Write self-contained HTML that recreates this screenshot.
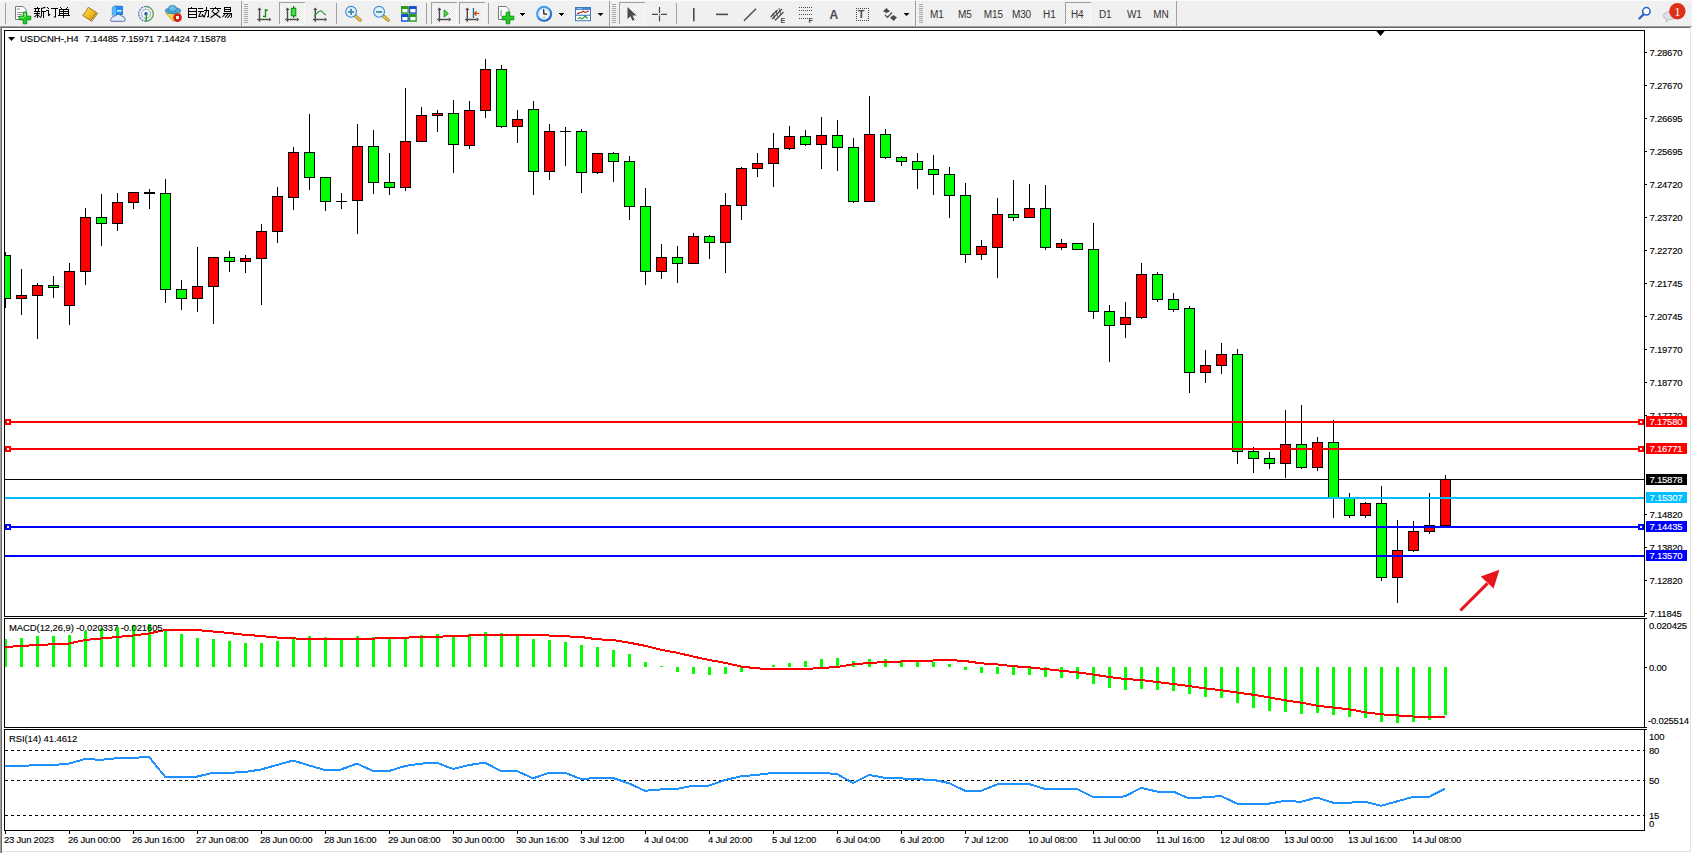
<!DOCTYPE html>
<html><head><meta charset="utf-8"><style>
html,body{margin:0;padding:0;width:1692px;height:853px;overflow:hidden;background:#fff;}
svg{position:absolute;left:0;top:0;font-family:"Liberation Sans", sans-serif;}
</style></head><body>
<svg width="1692" height="853" viewBox="0 0 1692 853" shape-rendering="crispEdges">
<!-- window chrome -->
<rect x="0" y="0" width="1692" height="26" fill="#f0f0f0"/>
<rect x="0" y="0" width="1692" height="1" fill="#fafafa"/>
<rect x="0" y="26" width="1692" height="1" fill="#a0a0a0"/>
<rect x="0" y="27" width="1690" height="1" fill="#696969"/>
<rect x="0" y="27" width="1" height="826" fill="#a0a0a0"/>
<rect x="1" y="27" width="1" height="826" fill="#696969"/>
<rect x="1690" y="27" width="1" height="825" fill="#e3e3e3"/>
<rect x="2" y="851" width="1689" height="1" fill="#e3e3e3"/>
<defs><pattern id="chk" width="2" height="2" patternUnits="userSpaceOnUse"><rect width="2" height="2" fill="#fbfbfb"/><rect width="1" height="1" fill="#e8e8e8"/><rect x="1" y="1" width="1" height="1" fill="#e8e8e8"/></pattern></defs>
<g shape-rendering="geometricPrecision">
<rect x="5" y="3" width="1" height="21" fill="#a0a0a0"/>
<path d="M15.5,6.5 h7.5 l3,3 v10 h-10.5 z" fill="#fff" stroke="#777" stroke-width="1"/>
<rect x="17" y="8.5" width="3" height="1.2" fill="#999"/><rect x="17" y="12" width="6" height="0.8" fill="#888"/><rect x="17" y="14" width="5" height="0.8" fill="#888"/><rect x="17" y="16" width="3" height="0.8" fill="#888"/>
<path d="M23.2,12.2 h3.6 v4 h4 v3.6 h-4 v4 h-3.6 v-4 h-4 v-3.6 h4 z" fill="#20d020" stroke="#0a8a0a" stroke-width="0.9"/>
<path d="M24,13 h2 v4 h-2 z M20,17 h4 v1.2 h-4 z" fill="#90f090" opacity="0.7"/>
<g fill="#000" shape-rendering="crispEdges"><rect x="37" y="7" width="1" height="1"/><rect x="34" y="8" width="6" height="1"/><rect x="35" y="9" width="1" height="2"/><rect x="38" y="9" width="1" height="2"/><rect x="34" y="11" width="6" height="1"/><rect x="34" y="13" width="6" height="1"/><rect x="37" y="11" width="1" height="7"/><rect x="41" y="8" width="1" height="8"/><rect x="41" y="11" width="5" height="1"/><rect x="43" y="11" width="1" height="7"/></g>
<path d="M37,14.5 L34.4,17.2 M37.6,14.8 L39.8,16.6 M45.5,7.2 L41.5,8.5 M41.5,15.8 L40.3,17.8" fill="none" stroke="#000" stroke-width="1.05" shape-rendering="geometricPrecision"/>
<g fill="#000" shape-rendering="crispEdges"><rect x="47" y="7" width="1" height="1"/><rect x="48" y="8" width="1" height="1"/><rect x="46" y="10" width="3" height="1"/><rect x="48" y="10" width="1" height="6"/><rect x="51" y="8" width="7" height="1"/><rect x="55" y="8" width="1" height="9"/></g>
<path d="M48.5,16 L50.2,14.2 M55.5,17.5 L53.8,16.6" fill="none" stroke="#000" stroke-width="1.05" shape-rendering="geometricPrecision"/>
<g fill="#000" shape-rendering="crispEdges"><rect x="60" y="7" width="1" height="1"/><rect x="61" y="8" width="1" height="1"/><rect x="67" y="7" width="1" height="1"/><rect x="66" y="8" width="1" height="1"/><rect x="59" y="9" width="10" height="1"/><rect x="59" y="9" width="1" height="6"/><rect x="68" y="9" width="1" height="6"/><rect x="59" y="11" width="10" height="1"/><rect x="59" y="13" width="10" height="1"/><rect x="58" y="15" width="12" height="1"/><rect x="63" y="9" width="1" height="9"/></g>
<defs><linearGradient id="bk" x1="0" y1="0" x2="1" y2="1"><stop offset="0" stop-color="#fde070"/><stop offset="0.6" stop-color="#e8b818"/><stop offset="1" stop-color="#c89010"/></linearGradient></defs>
<path d="M91.5,21.6 L97.6,13.6 L96.6,12.6 L90.6,20.6 Z" fill="#f4e4b0" stroke="#9a6010" stroke-width="0.8"/>
<path d="M82.6,15.4 Q85,13 86.5,10.5 Q87.5,8 88.3,7.3 L96.6,12.6 L90.6,20.6 Z" fill="url(#bk)" stroke="#a06810" stroke-width="0.9"/>
<path d="M112.3,7.5 L114.5,6 L122.5,6.3 L122.5,15 L112.3,15 Z" fill="#1a90f0" stroke="#1a60c0" stroke-width="0.7"/>
<path d="M112.3,7.5 L114.5,6 L116,8 L116,15 L112.3,15 Z" fill="#5ab8ff"/>
<rect x="117" y="10" width="4.5" height="1.6" fill="#e0f0ff"/>
<path d="M111,21.3 Q109.6,19 111.8,17.8 Q112.5,15.6 115,16 Q116.5,13.8 119.5,14.6 Q121.5,15.2 121.8,16.4 Q125,16.5 125.2,19 Q125.6,21.3 123.5,21.3 Z" fill="#e4ecf6" stroke="#4a68a0" stroke-width="0.9"/>
<path d="M146,6.5 a7.3,7.3 0 0 0 0,14.6" fill="none" stroke="#3a70c8" stroke-width="1.1" stroke-dasharray="2.2,0.8"/>
<path d="M146,6.5 a7.3,7.3 0 0 1 0,14.6" fill="none" stroke="#58a060" stroke-width="1.3"/>
<path d="M146,9.2 a4.6,4.6 0 0 0 0,9.2" fill="none" stroke="#5a88d0" stroke-width="1" stroke-dasharray="1.6,0.8"/>
<path d="M146,9.2 a4.6,4.6 0 0 1 0,9.2" fill="none" stroke="#88b890" stroke-width="1"/>
<circle cx="146" cy="13.8" r="1.7" fill="#2050c0"/>
<rect x="145.6" y="13.8" width="1.4" height="7.8" fill="#20a020"/>
<path d="M165.8,13.2 L181,13 L173.5,21.6 Z" fill="#f0d850" stroke="#c0a020" stroke-width="0.8"/>
<ellipse cx="173" cy="10.6" rx="7.8" ry="3" fill="#4aa8d8" stroke="#2a7aa8" stroke-width="0.8"/>
<ellipse cx="172.5" cy="8.5" rx="4" ry="3" fill="#6ac0e8" stroke="#2a7aa8" stroke-width="0.8"/>
<circle cx="177.5" cy="17.6" r="4.3" fill="#d82010"/><rect x="176" y="16.1" width="3" height="3" fill="#fff"/>
<g fill="#000" shape-rendering="crispEdges"><rect x="191" y="7" width="1" height="1"/><rect x="188" y="8" width="1" height="10"/><rect x="196" y="8" width="1" height="10"/><rect x="188" y="8" width="9" height="1"/><rect x="188" y="11" width="9" height="1"/><rect x="188" y="14" width="9" height="1"/><rect x="188" y="17" width="9" height="1"/></g>
<g fill="#000" shape-rendering="crispEdges"><rect x="198" y="8" width="5" height="1"/><rect x="198" y="11" width="6" height="1"/><rect x="204" y="10" width="5" height="1"/><rect x="208" y="10" width="1" height="7"/><rect x="206" y="7" width="1" height="4"/></g>
<path d="M201,11.5 L198.6,16.8 M198.6,16.8 L203.2,15.8 M202.2,14 L203.8,16.8 M208.5,17 L207,16.4 M206.5,11 L204,17.6" fill="none" stroke="#000" stroke-width="1.05" shape-rendering="geometricPrecision"/>
<g fill="#000" shape-rendering="crispEdges"><rect x="215" y="7" width="1" height="1"/><rect x="210" y="8" width="11" height="1"/></g>
<path d="M213.8,9.4 L211.6,11.6 M217.2,9.4 L219.4,11.6 M212.6,12 L220.6,17.8 M218.4,12 L210.4,17.8" fill="none" stroke="#000" stroke-width="1.05" shape-rendering="geometricPrecision"/>
<g fill="#000" shape-rendering="crispEdges"><rect x="224" y="7" width="7" height="1"/><rect x="224" y="7" width="1" height="5"/><rect x="230" y="7" width="1" height="5"/><rect x="224" y="9" width="7" height="1"/><rect x="224" y="11" width="7" height="1"/><rect x="223" y="13" width="9" height="1"/><rect x="231" y="13" width="1" height="4"/></g>
<path d="M225.5,13.5 L222.5,17 M228,14 L225,17.6 M230.5,14 L227.5,17.8 M231.5,17 L230.3,17.6" fill="none" stroke="#000" stroke-width="1.05" shape-rendering="geometricPrecision"/>
</g>
<rect x="241" y="1" width="1" height="25" fill="#a0a0a0"/>
<rect x="244" y="4" width="4" height="1" fill="#a8a8a8"/>
<rect x="244" y="6" width="4" height="1" fill="#a8a8a8"/>
<rect x="244" y="8" width="4" height="1" fill="#a8a8a8"/>
<rect x="244" y="10" width="4" height="1" fill="#a8a8a8"/>
<rect x="244" y="12" width="4" height="1" fill="#a8a8a8"/>
<rect x="244" y="14" width="4" height="1" fill="#a8a8a8"/>
<rect x="244" y="16" width="4" height="1" fill="#a8a8a8"/>
<rect x="244" y="18" width="4" height="1" fill="#a8a8a8"/>
<rect x="244" y="20" width="4" height="1" fill="#a8a8a8"/>
<rect x="244" y="22" width="4" height="1" fill="#a8a8a8"/>
<g shape-rendering="geometricPrecision">
<g fill="none" stroke="#4a4a4a" stroke-width="1.4"><path d="M259.5,8.5 v13.2"/><path d="M257.2,19.5 h11.5"/></g>
<polygon points="257.5,10 259.5,7.5 261.5,10" fill="#4a4a4a"/><polygon points="268.8,17.5 271.3,19.5 268.8,21.5" fill="#4a4a4a"/>
<path d="M265.5,9 v8.5 M263,16.3 h2.5 M265.5,10.3 h2.5" fill="none" stroke="#0a8a0a" stroke-width="1.3"/>
</g>
<rect x="279" y="2" width="26" height="23" fill="#fafafa"/>
<rect x="280" y="3" width="24" height="21" fill="url(#chk)"/>
<rect x="279" y="2" width="26" height="1" fill="#a0a0a0"/>
<rect x="279" y="2" width="1" height="22" fill="#a0a0a0"/>
<g shape-rendering="geometricPrecision">
<g fill="none" stroke="#4a4a4a" stroke-width="1.4"><path d="M287.5,8.5 v13.2"/><path d="M285.2,19.5 h11.5"/></g>
<polygon points="285.5,10 287.5,7.5 289.5,10" fill="#4a4a4a"/><polygon points="296.8,17.5 299.3,19.5 296.8,21.5" fill="#4a4a4a"/>
<rect x="293" y="6" width="1.3" height="12" fill="#0a8a0a"/>
<rect x="291.3" y="8.3" width="4.5" height="7.5" fill="#40e040" stroke="#0a8a0a" stroke-width="1"/>
<g fill="none" stroke="#4a4a4a" stroke-width="1.4"><path d="M315.3,8.5 v13.2"/><path d="M313.0,19.5 h11.5"/></g>
<polygon points="313.3,10 315.3,7.5 317.3,10" fill="#4a4a4a"/><polygon points="324.6,17.5 327.1,19.5 324.6,21.5" fill="#4a4a4a"/>
<path d="M314,16.5 Q320,9 322,11.5 T326,15" fill="none" stroke="#2a9a2a" stroke-width="1.2"/>
</g>
<rect x="336" y="3" width="1" height="21" fill="#a0a0a0"/>
<g shape-rendering="geometricPrecision">
<path d="M354.5,15.3 l5.6,4.8" stroke="#9a7010" stroke-width="3.2" stroke-linecap="round"/>
<path d="M354.5,15.3 l5.6,4.8" stroke="#e8d050" stroke-width="1.8" stroke-linecap="round"/>
<circle cx="351.1" cy="11.8" r="5.4" fill="#dff2fc" stroke="#3a88d0" stroke-width="1.1"/>
<rect x="348.1" y="11" width="6" height="1.8" fill="#4a88a8"/>
<rect x="350.20000000000005" y="8.8" width="1.8" height="6" fill="#4a88a8"/>
<path d="M382.5,15.3 l5.6,4.8" stroke="#9a7010" stroke-width="3.2" stroke-linecap="round"/>
<path d="M382.5,15.3 l5.6,4.8" stroke="#e8d050" stroke-width="1.8" stroke-linecap="round"/>
<circle cx="379.1" cy="11.8" r="5.4" fill="#dff2fc" stroke="#3a88d0" stroke-width="1.1"/>
<rect x="376.1" y="11" width="6" height="1.8" fill="#4a88a8"/>
<rect x="401" y="6" width="7.8" height="7.8" fill="#2a9a1a" rx="0.5"/>
<rect x="402.3" y="9" width="5.2" height="3.3" fill="#fff"/>
<rect x="409" y="6" width="7.8" height="7.8" fill="#1a50d0" rx="0.5"/>
<rect x="410.3" y="9" width="5.2" height="3.3" fill="#fff"/>
<rect x="401" y="14" width="7.8" height="7.8" fill="#1a50d0" rx="0.5"/>
<rect x="402.3" y="17" width="5.2" height="3.3" fill="#fff"/>
<rect x="409" y="14" width="7.8" height="7.8" fill="#2a9a1a" rx="0.5"/>
<rect x="410.3" y="17" width="5.2" height="3.3" fill="#fff"/>
</g>
<rect x="426" y="3" width="1" height="21" fill="#a0a0a0"/>
<rect x="431" y="2" width="26" height="23" fill="#fafafa"/>
<rect x="432" y="3" width="24" height="21" fill="url(#chk)"/>
<rect x="431" y="2" width="26" height="1" fill="#a0a0a0"/>
<rect x="431" y="2" width="1" height="22" fill="#a0a0a0"/>
<rect x="459" y="2" width="26" height="23" fill="#fafafa"/>
<rect x="460" y="3" width="24" height="21" fill="url(#chk)"/>
<rect x="459" y="2" width="26" height="1" fill="#a0a0a0"/>
<rect x="459" y="2" width="1" height="22" fill="#a0a0a0"/>
<g shape-rendering="geometricPrecision">
<g fill="none" stroke="#4a4a4a" stroke-width="1.4"><path d="M439.4,8.5 v13.2"/><path d="M437.09999999999997,19.5 h11.5"/></g>
<polygon points="437.4,10 439.4,7.5 441.4,10" fill="#4a4a4a"/><polygon points="448.7,17.5 451.2,19.5 448.7,21.5" fill="#4a4a4a"/>
<polygon points="444.2,10 444.2,17 448.3,13.5" fill="#60d060" stroke="#0a9a0a" stroke-width="1"/>
<g fill="none" stroke="#4a4a4a" stroke-width="1.4"><path d="M467.3,8.5 v13.2"/><path d="M465.0,19.5 h11.5"/></g>
<polygon points="465.3,10 467.3,7.5 469.3,10" fill="#4a4a4a"/><polygon points="476.6,17.5 479.1,19.5 476.6,21.5" fill="#4a4a4a"/>
<rect x="472.8" y="8" width="1.3" height="10" fill="#1a6aa8"/>
<path d="M479,13.4 h-4.5 M476.5,11.3 l-2,2.1 l2,2.1" fill="none" stroke="#d05010" stroke-width="1.4"/>
</g>
<rect x="488" y="3" width="1" height="21" fill="#a0a0a0"/>
<g shape-rendering="geometricPrecision">
<path d="M498.5,6.5 h7.5 l3,3 v10 h-10.5 z" fill="#fff" stroke="#777" stroke-width="1"/>
<path d="M502,10 q-1,0 -1,2 v4" fill="none" stroke="#555" stroke-width="0.8"/>
<path d="M506.2,12.2 h3.6 v4 h4 v3.6 h-4 v4 h-3.6 v-4 h-4 v-3.6 h4 z" fill="#20d020" stroke="#0a8a0a" stroke-width="0.9"/>
</g>
<polygon points="519.5,13 525.5,13 522.5,16" fill="#000"/>
<g shape-rendering="geometricPrecision">
<defs><radialGradient id="clk" cx="0.4" cy="0.35" r="0.7"><stop offset="0.6" stop-color="#3aa0f8"/><stop offset="1" stop-color="#0a4aa8"/></radialGradient></defs>
<circle cx="544.1" cy="13.8" r="8" fill="url(#clk)"/>
<circle cx="544.1" cy="13.8" r="5.9" fill="#f4f4f4"/>
<circle cx="549.00" cy="13.80" r="0.35" fill="#888"/>
<circle cx="548.34" cy="16.25" r="0.35" fill="#888"/>
<circle cx="546.55" cy="18.04" r="0.35" fill="#888"/>
<circle cx="544.10" cy="18.70" r="0.35" fill="#888"/>
<circle cx="541.65" cy="18.04" r="0.35" fill="#888"/>
<circle cx="539.86" cy="16.25" r="0.35" fill="#888"/>
<circle cx="539.20" cy="13.80" r="0.35" fill="#888"/>
<circle cx="539.86" cy="11.35" r="0.35" fill="#888"/>
<circle cx="541.65" cy="9.56" r="0.35" fill="#888"/>
<circle cx="544.10" cy="8.90" r="0.35" fill="#888"/>
<circle cx="546.55" cy="9.56" r="0.35" fill="#888"/>
<circle cx="548.34" cy="11.35" r="0.35" fill="#888"/>
<path d="M543.6,9.3 L543.9,13.9 L547,14.2" fill="none" stroke="#111" stroke-width="1.2"/>
<rect x="542.8" y="16.8" width="2.4" height="0.8" fill="#6ab0f0"/>
</g>
<polygon points="558.5,13 564.5,13 561.5,16" fill="#000"/>
<g shape-rendering="geometricPrecision">
<rect x="575.5" y="7.5" width="15" height="13.2" fill="#fff" stroke="#3a78c0" stroke-width="1"/>
<rect x="576" y="8" width="14" height="2" fill="#4a8ad8"/>
<rect x="577" y="8.3" width="5" height="0.8" fill="#a8d0f8"/>
<rect x="576" y="14.7" width="14" height="1.1" fill="#3a78c0"/>
<path d="M577,13.4 h1.5 l2,-1.2 h1.2 l1.5,-1 l1.5,1 h1.5 l1.5,-1 h1" fill="none" stroke="#a82010" stroke-width="1.1"/>
<path d="M578,18.8 l1.5,-0.9 h1 l1.5,1 l1.5,-1 l1.5,-1.8 l2.6,2.4" fill="none" stroke="#1a901a" stroke-width="1.1"/>
<polygon points="597.5,13 603.5,13 600.5,16" fill="#000"/>
<rect x="609" y="1" width="1" height="25" fill="#a0a0a0"/>
<rect x="612" y="4" width="4" height="1" fill="#a8a8a8"/>
<rect x="612" y="6" width="4" height="1" fill="#a8a8a8"/>
<rect x="612" y="8" width="4" height="1" fill="#a8a8a8"/>
<rect x="612" y="10" width="4" height="1" fill="#a8a8a8"/>
<rect x="612" y="12" width="4" height="1" fill="#a8a8a8"/>
<rect x="612" y="14" width="4" height="1" fill="#a8a8a8"/>
<rect x="612" y="16" width="4" height="1" fill="#a8a8a8"/>
<rect x="612" y="18" width="4" height="1" fill="#a8a8a8"/>
<rect x="612" y="20" width="4" height="1" fill="#a8a8a8"/>
<rect x="612" y="22" width="4" height="1" fill="#a8a8a8"/>
<rect x="619" y="2" width="26" height="23" fill="#fafafa"/>
<rect x="620" y="3" width="24" height="21" fill="url(#chk)"/>
<rect x="619" y="2" width="26" height="1" fill="#a0a0a0"/>
<rect x="619" y="2" width="1" height="22" fill="#a0a0a0"/>
<g shape-rendering="geometricPrecision">
<path d="M627.5,7 v12 l3,-2.8 l2,4.5 l2,-1 l-2,-4.2 h4 z" fill="#4a4a4a"/>
<path d="M659.5,7 v6 M659.5,15.5 v6 M652,14.3 h6 M661,14.3 h6" fill="none" stroke="#4a4a4a" stroke-width="1.2"/>
<rect x="659" y="13.8" width="1" height="1" fill="#4a4a4a"/>
</g>
<rect x="676" y="3" width="1" height="21" fill="#a0a0a0"/>
<g shape-rendering="geometricPrecision" fill="none" stroke="#4a4a4a">
<path d="M693.8,8 v13.2" stroke-width="1.6"/>
<path d="M716,14.4 h12" stroke-width="1.6"/>
<path d="M744,20.8 L756,8.8" stroke-width="1.4"/>
<path d="M770.5,17 L777.5,10 M775,20.5 L783.5,12 M772,19 L782,9" stroke-width="1.2"/>
<path d="M773,13 l1.5,6 M776,10.5 l1.5,6 M779,8 l1.5,6" stroke-width="0.9"/>
</g>
<text x="780.5" y="23" font-size="7" font-weight="bold" fill="#4a4a4a" font-family="Liberation Sans">E</text>
<g fill="#4a4a4a">
<rect x="799" y="7" width="1" height="1"/>
<rect x="801" y="7" width="1" height="1"/>
<rect x="803" y="7" width="1" height="1"/>
<rect x="805" y="7" width="1" height="1"/>
<rect x="807" y="7" width="1" height="1"/>
<rect x="809" y="7" width="1" height="1"/>
<rect x="811" y="7" width="1" height="1"/>
<rect x="799" y="10" width="1" height="1"/>
<rect x="801" y="10" width="1" height="1"/>
<rect x="803" y="10" width="1" height="1"/>
<rect x="805" y="10" width="1" height="1"/>
<rect x="807" y="10" width="1" height="1"/>
<rect x="809" y="10" width="1" height="1"/>
<rect x="811" y="10" width="1" height="1"/>
<rect x="799" y="14" width="1" height="1"/>
<rect x="801" y="14" width="1" height="1"/>
<rect x="803" y="14" width="1" height="1"/>
<rect x="805" y="14" width="1" height="1"/>
<rect x="807" y="14" width="1" height="1"/>
<rect x="809" y="14" width="1" height="1"/>
<rect x="811" y="14" width="1" height="1"/>
<rect x="799" y="18" width="1" height="1"/>
<rect x="801" y="18" width="1" height="1"/>
<rect x="803" y="18" width="1" height="1"/>
<rect x="805" y="18" width="1" height="1"/>
<rect x="807" y="18" width="1" height="1"/>
</g>
<text x="808.5" y="23" font-size="7" font-weight="bold" fill="#4a4a4a" font-family="Liberation Sans">F</text>
<text x="829.5" y="19" font-size="12" font-weight="bold" fill="#4a4a4a" font-family="Liberation Sans">A</text>
<g fill="#4a4a4a">
<rect x="856" y="8" width="1" height="1"/><rect x="856" y="20" width="1" height="1"/>
<rect x="858" y="8" width="1" height="1"/><rect x="858" y="20" width="1" height="1"/>
<rect x="860" y="8" width="1" height="1"/><rect x="860" y="20" width="1" height="1"/>
<rect x="862" y="8" width="1" height="1"/><rect x="862" y="20" width="1" height="1"/>
<rect x="864" y="8" width="1" height="1"/><rect x="864" y="20" width="1" height="1"/>
<rect x="866" y="8" width="1" height="1"/><rect x="866" y="20" width="1" height="1"/>
<rect x="868" y="8" width="1" height="1"/><rect x="868" y="20" width="1" height="1"/>
<rect x="856" y="8" width="1" height="1"/><rect x="868" y="8" width="1" height="1"/>
<rect x="856" y="10" width="1" height="1"/><rect x="868" y="10" width="1" height="1"/>
<rect x="856" y="12" width="1" height="1"/><rect x="868" y="12" width="1" height="1"/>
<rect x="856" y="14" width="1" height="1"/><rect x="868" y="14" width="1" height="1"/>
<rect x="856" y="16" width="1" height="1"/><rect x="868" y="16" width="1" height="1"/>
<rect x="856" y="18" width="1" height="1"/><rect x="868" y="18" width="1" height="1"/>
<rect x="856" y="20" width="1" height="1"/><rect x="868" y="20" width="1" height="1"/>
</g>
<text x="858" y="18" font-size="10.5" font-weight="bold" fill="#4a4a4a" font-family="Liberation Sans">T</text>
<g shape-rendering="geometricPrecision">
<polygon points="883,11.3 886.5,8 890,11.3 886.5,13" fill="#4a4a4a"/>
<polygon points="890,17.5 893.5,15 897,17.5 893.5,21" fill="#4a4a4a"/>
<path d="M885,15 l2.5,2.5 l4.5,-5" fill="none" stroke="#4a4a4a" stroke-width="1.2"/>
</g>
<polygon points="903.5,13 909.5,13 906.5,16" fill="#000"/>
<rect x="915" y="1" width="1" height="25" fill="#a0a0a0"/>
<rect x="919" y="4" width="4" height="1" fill="#a8a8a8"/>
<rect x="919" y="6" width="4" height="1" fill="#a8a8a8"/>
<rect x="919" y="8" width="4" height="1" fill="#a8a8a8"/>
<rect x="919" y="10" width="4" height="1" fill="#a8a8a8"/>
<rect x="919" y="12" width="4" height="1" fill="#a8a8a8"/>
<rect x="919" y="14" width="4" height="1" fill="#a8a8a8"/>
<rect x="919" y="16" width="4" height="1" fill="#a8a8a8"/>
<rect x="919" y="18" width="4" height="1" fill="#a8a8a8"/>
<rect x="919" y="20" width="4" height="1" fill="#a8a8a8"/>
<rect x="919" y="22" width="4" height="1" fill="#a8a8a8"/>
<rect x="1065" y="2" width="26" height="23" fill="#fafafa"/>
<rect x="1066" y="3" width="24" height="21" fill="url(#chk)"/>
<rect x="1065" y="2" width="26" height="1" fill="#a0a0a0"/>
<rect x="1065" y="2" width="1" height="22" fill="#a0a0a0"/>
<text x="936.9" y="18" font-size="10" letter-spacing="-0.1" fill="#333" text-anchor="middle" font-family="Liberation Sans">M1</text>
<text x="964.8" y="18" font-size="10" letter-spacing="-0.1" fill="#333" text-anchor="middle" font-family="Liberation Sans">M5</text>
<text x="993.3" y="18" font-size="10" letter-spacing="-0.1" fill="#333" text-anchor="middle" font-family="Liberation Sans">M15</text>
<text x="1021.5" y="18" font-size="10" letter-spacing="-0.1" fill="#333" text-anchor="middle" font-family="Liberation Sans">M30</text>
<text x="1049.4" y="18" font-size="10" letter-spacing="-0.1" fill="#333" text-anchor="middle" font-family="Liberation Sans">H1</text>
<text x="1077.3" y="18" font-size="10" letter-spacing="-0.1" fill="#333" text-anchor="middle" font-family="Liberation Sans">H4</text>
<text x="1105.3" y="18" font-size="10" letter-spacing="-0.1" fill="#333" text-anchor="middle" font-family="Liberation Sans">D1</text>
<text x="1134.3" y="18" font-size="10" letter-spacing="-0.1" fill="#333" text-anchor="middle" font-family="Liberation Sans">W1</text>
<text x="1160.9" y="18" font-size="10" letter-spacing="-0.1" fill="#333" text-anchor="middle" font-family="Liberation Sans">MN</text>
<rect x="1176" y="1" width="1" height="25" fill="#a0a0a0"/>
<g shape-rendering="geometricPrecision">
<circle cx="1646.4" cy="11.3" r="3.7" fill="#fff" stroke="#2060d0" stroke-width="1.5"/>
<path d="M1643.6,14.2 L1639.4,18.5" stroke="#2060d0" stroke-width="2.2" stroke-linecap="round"/>
<path d="M1666,21.5 l1,-2 q-3.5,-1 -3.5,-3.5 q0,-4 6,-4 q6,0 6,4 q0,3.5 -6,3.5 z" fill="#e0e0e8" stroke="#b0b0b0" stroke-width="0.8"/>
<circle cx="1677.4" cy="11.3" r="8.2" fill="#dd3018"/>
<text x="1677.4" y="15.5" font-size="12" fill="#fff" text-anchor="middle" font-family="Liberation Serif">1</text>
</g>
<defs><clipPath id="cm"><rect x="5" y="31" width="1639" height="585"/></clipPath><clipPath id="cd"><rect x="5" y="619" width="1639" height="108"/></clipPath><clipPath id="cr"><rect x="5" y="730" width="1639" height="100"/></clipPath></defs>
<rect x="5" y="479" width="1639" height="1" fill="#000"/>
<g clip-path="url(#cm)">
<rect x="5" y="252" width="1" height="56" fill="#000"/>
<rect x="0" y="255" width="11" height="44" fill="#000"/>
<rect x="1" y="256" width="9" height="42" fill="#00ff00"/>
<rect x="21" y="269" width="1" height="46" fill="#000"/>
<rect x="16" y="295" width="11" height="4" fill="#000"/>
<rect x="17" y="296" width="9" height="2" fill="#ff0000"/>
<rect x="37" y="283" width="1" height="56" fill="#000"/>
<rect x="32" y="285" width="11" height="11" fill="#000"/>
<rect x="33" y="286" width="9" height="9" fill="#ff0000"/>
<rect x="53" y="276" width="1" height="22" fill="#000"/>
<rect x="48" y="285" width="11" height="3" fill="#000"/>
<rect x="49" y="286" width="9" height="1" fill="#00ff00"/>
<rect x="69" y="263" width="1" height="62" fill="#000"/>
<rect x="64" y="271" width="11" height="35" fill="#000"/>
<rect x="65" y="272" width="9" height="33" fill="#ff0000"/>
<rect x="85" y="208" width="1" height="77" fill="#000"/>
<rect x="80" y="217" width="11" height="55" fill="#000"/>
<rect x="81" y="218" width="9" height="53" fill="#ff0000"/>
<rect x="101" y="194" width="1" height="52" fill="#000"/>
<rect x="96" y="217" width="11" height="7" fill="#000"/>
<rect x="97" y="218" width="9" height="5" fill="#00ff00"/>
<rect x="117" y="193" width="1" height="38" fill="#000"/>
<rect x="112" y="202" width="11" height="22" fill="#000"/>
<rect x="113" y="203" width="9" height="20" fill="#ff0000"/>
<rect x="133" y="192" width="1" height="17" fill="#000"/>
<rect x="128" y="192" width="11" height="11" fill="#000"/>
<rect x="129" y="193" width="9" height="9" fill="#ff0000"/>
<rect x="149" y="189" width="1" height="20" fill="#000"/>
<rect x="144" y="192" width="11" height="2" fill="#000"/>
<rect x="165" y="179" width="1" height="124" fill="#000"/>
<rect x="160" y="193" width="11" height="97" fill="#000"/>
<rect x="161" y="194" width="9" height="95" fill="#00ff00"/>
<rect x="181" y="280" width="1" height="30" fill="#000"/>
<rect x="176" y="289" width="11" height="10" fill="#000"/>
<rect x="177" y="290" width="9" height="8" fill="#00ff00"/>
<rect x="197" y="247" width="1" height="65" fill="#000"/>
<rect x="192" y="286" width="11" height="13" fill="#000"/>
<rect x="193" y="287" width="9" height="11" fill="#ff0000"/>
<rect x="213" y="257" width="1" height="67" fill="#000"/>
<rect x="208" y="257" width="11" height="30" fill="#000"/>
<rect x="209" y="258" width="9" height="28" fill="#ff0000"/>
<rect x="229" y="251" width="1" height="21" fill="#000"/>
<rect x="224" y="257" width="11" height="5" fill="#000"/>
<rect x="225" y="258" width="9" height="3" fill="#00ff00"/>
<rect x="245" y="255" width="1" height="18" fill="#000"/>
<rect x="240" y="258" width="11" height="4" fill="#000"/>
<rect x="241" y="259" width="9" height="2" fill="#ff0000"/>
<rect x="261" y="224" width="1" height="81" fill="#000"/>
<rect x="256" y="231" width="11" height="28" fill="#000"/>
<rect x="257" y="232" width="9" height="26" fill="#ff0000"/>
<rect x="277" y="187" width="1" height="56" fill="#000"/>
<rect x="272" y="196" width="11" height="36" fill="#000"/>
<rect x="273" y="197" width="9" height="34" fill="#ff0000"/>
<rect x="293" y="147" width="1" height="63" fill="#000"/>
<rect x="288" y="152" width="11" height="46" fill="#000"/>
<rect x="289" y="153" width="9" height="44" fill="#ff0000"/>
<rect x="309" y="114" width="1" height="76" fill="#000"/>
<rect x="304" y="152" width="11" height="26" fill="#000"/>
<rect x="305" y="153" width="9" height="24" fill="#00ff00"/>
<rect x="325" y="177" width="1" height="34" fill="#000"/>
<rect x="320" y="177" width="11" height="25" fill="#000"/>
<rect x="321" y="178" width="9" height="23" fill="#00ff00"/>
<rect x="341" y="193" width="1" height="16" fill="#000"/>
<rect x="336" y="201" width="11" height="1" fill="#000"/>
<rect x="357" y="124" width="1" height="110" fill="#000"/>
<rect x="352" y="146" width="11" height="55" fill="#000"/>
<rect x="353" y="147" width="9" height="53" fill="#ff0000"/>
<rect x="373" y="130" width="1" height="64" fill="#000"/>
<rect x="368" y="146" width="11" height="37" fill="#000"/>
<rect x="369" y="147" width="9" height="35" fill="#00ff00"/>
<rect x="389" y="153" width="1" height="42" fill="#000"/>
<rect x="384" y="182" width="11" height="6" fill="#000"/>
<rect x="385" y="183" width="9" height="4" fill="#00ff00"/>
<rect x="405" y="88" width="1" height="103" fill="#000"/>
<rect x="400" y="141" width="11" height="47" fill="#000"/>
<rect x="401" y="142" width="9" height="45" fill="#ff0000"/>
<rect x="421" y="107" width="1" height="35" fill="#000"/>
<rect x="416" y="115" width="11" height="27" fill="#000"/>
<rect x="417" y="116" width="9" height="25" fill="#ff0000"/>
<rect x="437" y="110" width="1" height="22" fill="#000"/>
<rect x="432" y="113" width="11" height="3" fill="#000"/>
<rect x="433" y="114" width="9" height="1" fill="#ff0000"/>
<rect x="453" y="100" width="1" height="73" fill="#000"/>
<rect x="448" y="113" width="11" height="32" fill="#000"/>
<rect x="449" y="114" width="9" height="30" fill="#00ff00"/>
<rect x="469" y="101" width="1" height="48" fill="#000"/>
<rect x="464" y="110" width="11" height="36" fill="#000"/>
<rect x="465" y="111" width="9" height="34" fill="#ff0000"/>
<rect x="485" y="59" width="1" height="59" fill="#000"/>
<rect x="480" y="69" width="11" height="42" fill="#000"/>
<rect x="481" y="70" width="9" height="40" fill="#ff0000"/>
<rect x="501" y="65" width="1" height="63" fill="#000"/>
<rect x="496" y="69" width="11" height="58" fill="#000"/>
<rect x="497" y="70" width="9" height="56" fill="#00ff00"/>
<rect x="517" y="110" width="1" height="33" fill="#000"/>
<rect x="512" y="119" width="11" height="8" fill="#000"/>
<rect x="513" y="120" width="9" height="6" fill="#ff0000"/>
<rect x="533" y="101" width="1" height="94" fill="#000"/>
<rect x="528" y="109" width="11" height="63" fill="#000"/>
<rect x="529" y="110" width="9" height="61" fill="#00ff00"/>
<rect x="549" y="124" width="1" height="56" fill="#000"/>
<rect x="544" y="131" width="11" height="41" fill="#000"/>
<rect x="545" y="132" width="9" height="39" fill="#ff0000"/>
<rect x="565" y="127" width="1" height="39" fill="#000"/>
<rect x="560" y="131" width="11" height="1" fill="#000"/>
<rect x="581" y="129" width="1" height="64" fill="#000"/>
<rect x="576" y="131" width="11" height="42" fill="#000"/>
<rect x="577" y="132" width="9" height="40" fill="#00ff00"/>
<rect x="597" y="153" width="1" height="21" fill="#000"/>
<rect x="592" y="153" width="11" height="20" fill="#000"/>
<rect x="593" y="154" width="9" height="18" fill="#ff0000"/>
<rect x="613" y="152" width="1" height="30" fill="#000"/>
<rect x="608" y="153" width="11" height="9" fill="#000"/>
<rect x="609" y="154" width="9" height="7" fill="#00ff00"/>
<rect x="629" y="156" width="1" height="64" fill="#000"/>
<rect x="624" y="161" width="11" height="46" fill="#000"/>
<rect x="625" y="162" width="9" height="44" fill="#00ff00"/>
<rect x="645" y="188" width="1" height="97" fill="#000"/>
<rect x="640" y="206" width="11" height="66" fill="#000"/>
<rect x="641" y="207" width="9" height="64" fill="#00ff00"/>
<rect x="661" y="244" width="1" height="35" fill="#000"/>
<rect x="656" y="257" width="11" height="15" fill="#000"/>
<rect x="657" y="258" width="9" height="13" fill="#ff0000"/>
<rect x="677" y="246" width="1" height="37" fill="#000"/>
<rect x="672" y="257" width="11" height="7" fill="#000"/>
<rect x="673" y="258" width="9" height="5" fill="#00ff00"/>
<rect x="693" y="233" width="1" height="31" fill="#000"/>
<rect x="688" y="236" width="11" height="28" fill="#000"/>
<rect x="689" y="237" width="9" height="26" fill="#ff0000"/>
<rect x="709" y="235" width="1" height="24" fill="#000"/>
<rect x="704" y="236" width="11" height="7" fill="#000"/>
<rect x="705" y="237" width="9" height="5" fill="#00ff00"/>
<rect x="725" y="193" width="1" height="80" fill="#000"/>
<rect x="720" y="205" width="11" height="38" fill="#000"/>
<rect x="721" y="206" width="9" height="36" fill="#ff0000"/>
<rect x="741" y="167" width="1" height="53" fill="#000"/>
<rect x="736" y="168" width="11" height="38" fill="#000"/>
<rect x="737" y="169" width="9" height="36" fill="#ff0000"/>
<rect x="757" y="153" width="1" height="24" fill="#000"/>
<rect x="752" y="163" width="11" height="6" fill="#000"/>
<rect x="753" y="164" width="9" height="4" fill="#ff0000"/>
<rect x="773" y="133" width="1" height="54" fill="#000"/>
<rect x="768" y="148" width="11" height="16" fill="#000"/>
<rect x="769" y="149" width="9" height="14" fill="#ff0000"/>
<rect x="789" y="126" width="1" height="24" fill="#000"/>
<rect x="784" y="136" width="11" height="13" fill="#000"/>
<rect x="785" y="137" width="9" height="11" fill="#ff0000"/>
<rect x="805" y="130" width="1" height="16" fill="#000"/>
<rect x="800" y="136" width="11" height="9" fill="#000"/>
<rect x="801" y="137" width="9" height="7" fill="#00ff00"/>
<rect x="821" y="117" width="1" height="52" fill="#000"/>
<rect x="816" y="135" width="11" height="10" fill="#000"/>
<rect x="817" y="136" width="9" height="8" fill="#ff0000"/>
<rect x="837" y="120" width="1" height="51" fill="#000"/>
<rect x="832" y="135" width="11" height="13" fill="#000"/>
<rect x="833" y="136" width="9" height="11" fill="#00ff00"/>
<rect x="853" y="138" width="1" height="65" fill="#000"/>
<rect x="848" y="147" width="11" height="55" fill="#000"/>
<rect x="849" y="148" width="9" height="53" fill="#00ff00"/>
<rect x="869" y="96" width="1" height="106" fill="#000"/>
<rect x="864" y="134" width="11" height="68" fill="#000"/>
<rect x="865" y="135" width="9" height="66" fill="#ff0000"/>
<rect x="885" y="129" width="1" height="30" fill="#000"/>
<rect x="880" y="134" width="11" height="24" fill="#000"/>
<rect x="881" y="135" width="9" height="22" fill="#00ff00"/>
<rect x="901" y="156" width="1" height="10" fill="#000"/>
<rect x="896" y="157" width="11" height="5" fill="#000"/>
<rect x="897" y="158" width="9" height="3" fill="#00ff00"/>
<rect x="917" y="153" width="1" height="36" fill="#000"/>
<rect x="912" y="161" width="11" height="9" fill="#000"/>
<rect x="913" y="162" width="9" height="7" fill="#00ff00"/>
<rect x="933" y="155" width="1" height="40" fill="#000"/>
<rect x="928" y="169" width="11" height="6" fill="#000"/>
<rect x="929" y="170" width="9" height="4" fill="#00ff00"/>
<rect x="949" y="167" width="1" height="51" fill="#000"/>
<rect x="944" y="174" width="11" height="22" fill="#000"/>
<rect x="945" y="175" width="9" height="20" fill="#00ff00"/>
<rect x="965" y="183" width="1" height="80" fill="#000"/>
<rect x="960" y="195" width="11" height="60" fill="#000"/>
<rect x="961" y="196" width="9" height="58" fill="#00ff00"/>
<rect x="981" y="240" width="1" height="20" fill="#000"/>
<rect x="976" y="246" width="11" height="9" fill="#000"/>
<rect x="977" y="247" width="9" height="7" fill="#ff0000"/>
<rect x="997" y="198" width="1" height="80" fill="#000"/>
<rect x="992" y="214" width="11" height="34" fill="#000"/>
<rect x="993" y="215" width="9" height="32" fill="#ff0000"/>
<rect x="1013" y="180" width="1" height="41" fill="#000"/>
<rect x="1008" y="214" width="11" height="4" fill="#000"/>
<rect x="1009" y="215" width="9" height="2" fill="#00ff00"/>
<rect x="1029" y="184" width="1" height="34" fill="#000"/>
<rect x="1024" y="208" width="11" height="10" fill="#000"/>
<rect x="1025" y="209" width="9" height="8" fill="#ff0000"/>
<rect x="1045" y="185" width="1" height="65" fill="#000"/>
<rect x="1040" y="208" width="11" height="40" fill="#000"/>
<rect x="1041" y="209" width="9" height="38" fill="#00ff00"/>
<rect x="1061" y="239" width="1" height="11" fill="#000"/>
<rect x="1056" y="243" width="11" height="5" fill="#000"/>
<rect x="1057" y="244" width="9" height="3" fill="#ff0000"/>
<rect x="1077" y="243" width="1" height="7" fill="#000"/>
<rect x="1072" y="243" width="11" height="7" fill="#000"/>
<rect x="1073" y="244" width="9" height="5" fill="#00ff00"/>
<rect x="1093" y="223" width="1" height="96" fill="#000"/>
<rect x="1088" y="249" width="11" height="63" fill="#000"/>
<rect x="1089" y="250" width="9" height="61" fill="#00ff00"/>
<rect x="1109" y="305" width="1" height="57" fill="#000"/>
<rect x="1104" y="311" width="11" height="15" fill="#000"/>
<rect x="1105" y="312" width="9" height="13" fill="#00ff00"/>
<rect x="1125" y="302" width="1" height="36" fill="#000"/>
<rect x="1120" y="317" width="11" height="8" fill="#000"/>
<rect x="1121" y="318" width="9" height="6" fill="#ff0000"/>
<rect x="1141" y="263" width="1" height="56" fill="#000"/>
<rect x="1136" y="274" width="11" height="44" fill="#000"/>
<rect x="1137" y="275" width="9" height="42" fill="#ff0000"/>
<rect x="1157" y="272" width="1" height="30" fill="#000"/>
<rect x="1152" y="274" width="11" height="26" fill="#000"/>
<rect x="1153" y="275" width="9" height="24" fill="#00ff00"/>
<rect x="1173" y="293" width="1" height="19" fill="#000"/>
<rect x="1168" y="299" width="11" height="11" fill="#000"/>
<rect x="1169" y="300" width="9" height="9" fill="#00ff00"/>
<rect x="1189" y="306" width="1" height="87" fill="#000"/>
<rect x="1184" y="308" width="11" height="65" fill="#000"/>
<rect x="1185" y="309" width="9" height="63" fill="#00ff00"/>
<rect x="1205" y="350" width="1" height="33" fill="#000"/>
<rect x="1200" y="365" width="11" height="8" fill="#000"/>
<rect x="1201" y="366" width="9" height="6" fill="#ff0000"/>
<rect x="1221" y="343" width="1" height="31" fill="#000"/>
<rect x="1216" y="354" width="11" height="12" fill="#000"/>
<rect x="1217" y="355" width="9" height="10" fill="#ff0000"/>
<rect x="1237" y="349" width="1" height="115" fill="#000"/>
<rect x="1232" y="354" width="11" height="98" fill="#000"/>
<rect x="1233" y="355" width="9" height="96" fill="#00ff00"/>
<rect x="1253" y="447" width="1" height="26" fill="#000"/>
<rect x="1248" y="451" width="11" height="8" fill="#000"/>
<rect x="1249" y="452" width="9" height="6" fill="#00ff00"/>
<rect x="1269" y="452" width="1" height="17" fill="#000"/>
<rect x="1264" y="458" width="11" height="6" fill="#000"/>
<rect x="1265" y="459" width="9" height="4" fill="#00ff00"/>
<rect x="1285" y="410" width="1" height="68" fill="#000"/>
<rect x="1280" y="444" width="11" height="20" fill="#000"/>
<rect x="1281" y="445" width="9" height="18" fill="#ff0000"/>
<rect x="1301" y="405" width="1" height="64" fill="#000"/>
<rect x="1296" y="444" width="11" height="24" fill="#000"/>
<rect x="1297" y="445" width="9" height="22" fill="#00ff00"/>
<rect x="1317" y="437" width="1" height="34" fill="#000"/>
<rect x="1312" y="442" width="11" height="26" fill="#000"/>
<rect x="1313" y="443" width="9" height="24" fill="#ff0000"/>
<rect x="1333" y="420" width="1" height="98" fill="#000"/>
<rect x="1328" y="442" width="11" height="56" fill="#000"/>
<rect x="1329" y="443" width="9" height="54" fill="#00ff00"/>
<rect x="1349" y="493" width="1" height="25" fill="#000"/>
<rect x="1344" y="498" width="11" height="18" fill="#000"/>
<rect x="1345" y="499" width="9" height="16" fill="#00ff00"/>
<rect x="1365" y="502" width="1" height="16" fill="#000"/>
<rect x="1360" y="503" width="11" height="13" fill="#000"/>
<rect x="1361" y="504" width="9" height="11" fill="#ff0000"/>
<rect x="1381" y="486" width="1" height="95" fill="#000"/>
<rect x="1376" y="503" width="11" height="75" fill="#000"/>
<rect x="1377" y="504" width="9" height="73" fill="#00ff00"/>
<rect x="1397" y="520" width="1" height="83" fill="#000"/>
<rect x="1392" y="550" width="11" height="28" fill="#000"/>
<rect x="1393" y="551" width="9" height="26" fill="#ff0000"/>
<rect x="1413" y="521" width="1" height="31" fill="#000"/>
<rect x="1408" y="531" width="11" height="20" fill="#000"/>
<rect x="1409" y="532" width="9" height="18" fill="#ff0000"/>
<rect x="1429" y="493" width="1" height="41" fill="#000"/>
<rect x="1424" y="525" width="11" height="7" fill="#000"/>
<rect x="1425" y="526" width="9" height="5" fill="#ff0000"/>
<rect x="1445" y="475" width="1" height="51" fill="#000"/>
<rect x="1440" y="479" width="11" height="47" fill="#000"/>
<rect x="1441" y="480" width="9" height="45" fill="#ff0000"/>
</g>
<rect x="5" y="421" width="1639" height="2" fill="#ff0000"/>
<rect x="5" y="419" width="6" height="6" fill="#ff0000"/>
<rect x="7" y="421" width="2" height="2" fill="#fff"/>
<rect x="1638" y="419" width="6" height="6" fill="#ff0000"/>
<rect x="1640" y="421" width="2" height="2" fill="#fff"/>
<rect x="5" y="448" width="1639" height="2" fill="#ff0000"/>
<rect x="5" y="446" width="6" height="6" fill="#ff0000"/>
<rect x="7" y="448" width="2" height="2" fill="#fff"/>
<rect x="1638" y="446" width="6" height="6" fill="#ff0000"/>
<rect x="1640" y="448" width="2" height="2" fill="#fff"/>
<rect x="5" y="497" width="1639" height="2" fill="#00bfff"/>
<rect x="5" y="526" width="1639" height="2" fill="#0000ff"/>
<rect x="5" y="524" width="6" height="6" fill="#0000ff"/>
<rect x="7" y="526" width="2" height="2" fill="#fff"/>
<rect x="1638" y="524" width="6" height="6" fill="#0000ff"/>
<rect x="1640" y="526" width="2" height="2" fill="#fff"/>
<rect x="5" y="555" width="1639" height="2" fill="#0000ff"/>
<g shape-rendering="geometricPrecision"><path d="M1460.4,610.5 L1487.5,583.3" stroke="#e8141c" stroke-width="3.1"/><polygon points="1499.4,569.8 1480.8,576.4 1493.6,588.6" fill="#e8141c"/></g>
<polygon points="1375.5,30 1385.5,30 1380.5,36" fill="#000"/>
<rect x="4" y="30" width="1641" height="1" fill="#000"/>
<rect x="4" y="616" width="1641" height="1" fill="#000"/>
<rect x="4" y="30" width="1" height="587" fill="#000"/>
<rect x="1644" y="30" width="1" height="587" fill="#000"/>
<rect x="4" y="618" width="1641" height="1" fill="#000"/>
<rect x="4" y="727" width="1641" height="1" fill="#000"/>
<rect x="4" y="618" width="1" height="110" fill="#000"/>
<rect x="1644" y="618" width="1" height="110" fill="#000"/>
<rect x="4" y="729" width="1641" height="1" fill="#000"/>
<rect x="4" y="830" width="1641" height="1" fill="#000"/>
<rect x="4" y="729" width="1" height="102" fill="#000"/>
<rect x="1644" y="729" width="1" height="102" fill="#000"/>
<rect x="1645" y="52" width="2" height="1" fill="#000"/>
<text x="1649.5" y="56" font-size="9.5" fill="#000" stroke="#000" stroke-width="0.12" letter-spacing="-0.22" text-anchor="start" >7.28670</text>
<rect x="1645" y="85" width="2" height="1" fill="#000"/>
<text x="1649.5" y="89" font-size="9.5" fill="#000" stroke="#000" stroke-width="0.12" letter-spacing="-0.22" text-anchor="start" >7.27670</text>
<rect x="1645" y="118" width="2" height="1" fill="#000"/>
<text x="1649.5" y="122" font-size="9.5" fill="#000" stroke="#000" stroke-width="0.12" letter-spacing="-0.22" text-anchor="start" >7.26695</text>
<rect x="1645" y="151" width="2" height="1" fill="#000"/>
<text x="1649.5" y="155" font-size="9.5" fill="#000" stroke="#000" stroke-width="0.12" letter-spacing="-0.22" text-anchor="start" >7.25695</text>
<rect x="1645" y="184" width="2" height="1" fill="#000"/>
<text x="1649.5" y="188" font-size="9.5" fill="#000" stroke="#000" stroke-width="0.12" letter-spacing="-0.22" text-anchor="start" >7.24720</text>
<rect x="1645" y="217" width="2" height="1" fill="#000"/>
<text x="1649.5" y="221" font-size="9.5" fill="#000" stroke="#000" stroke-width="0.12" letter-spacing="-0.22" text-anchor="start" >7.23720</text>
<rect x="1645" y="250" width="2" height="1" fill="#000"/>
<text x="1649.5" y="254" font-size="9.5" fill="#000" stroke="#000" stroke-width="0.12" letter-spacing="-0.22" text-anchor="start" >7.22720</text>
<rect x="1645" y="283" width="2" height="1" fill="#000"/>
<text x="1649.5" y="287" font-size="9.5" fill="#000" stroke="#000" stroke-width="0.12" letter-spacing="-0.22" text-anchor="start" >7.21745</text>
<rect x="1645" y="316" width="2" height="1" fill="#000"/>
<text x="1649.5" y="320" font-size="9.5" fill="#000" stroke="#000" stroke-width="0.12" letter-spacing="-0.22" text-anchor="start" >7.20745</text>
<rect x="1645" y="349" width="2" height="1" fill="#000"/>
<text x="1649.5" y="353" font-size="9.5" fill="#000" stroke="#000" stroke-width="0.12" letter-spacing="-0.22" text-anchor="start" >7.19770</text>
<rect x="1645" y="382" width="2" height="1" fill="#000"/>
<text x="1649.5" y="386" font-size="9.5" fill="#000" stroke="#000" stroke-width="0.12" letter-spacing="-0.22" text-anchor="start" >7.18770</text>
<rect x="1645" y="415" width="2" height="1" fill="#000"/>
<text x="1649.5" y="419" font-size="9.5" fill="#000" stroke="#000" stroke-width="0.12" letter-spacing="-0.22" text-anchor="start" >7.17770</text>
<rect x="1645" y="514" width="2" height="1" fill="#000"/>
<text x="1649.5" y="518" font-size="9.5" fill="#000" stroke="#000" stroke-width="0.12" letter-spacing="-0.22" text-anchor="start" >7.14820</text>
<rect x="1645" y="547" width="2" height="1" fill="#000"/>
<text x="1649.5" y="551" font-size="9.5" fill="#000" stroke="#000" stroke-width="0.12" letter-spacing="-0.22" text-anchor="start" >7.13820</text>
<rect x="1645" y="580" width="2" height="1" fill="#000"/>
<text x="1649.5" y="584" font-size="9.5" fill="#000" stroke="#000" stroke-width="0.12" letter-spacing="-0.22" text-anchor="start" >7.12820</text>
<rect x="1645" y="613" width="2" height="1" fill="#000"/>
<text x="1649.5" y="617" font-size="9.5" fill="#000" stroke="#000" stroke-width="0.12" letter-spacing="-0.22" text-anchor="start" >7.11845</text>
<rect x="1646" y="416" width="41" height="11" fill="#ff0000"/>
<text x="1649.5" y="425" font-size="9.5" fill="#fff" stroke="#fff" stroke-width="0.12" letter-spacing="-0.22" text-anchor="start" >7.17580</text>
<rect x="1646" y="443" width="41" height="11" fill="#ff0000"/>
<text x="1649.5" y="452" font-size="9.5" fill="#fff" stroke="#fff" stroke-width="0.12" letter-spacing="-0.22" text-anchor="start" >7.16771</text>
<rect x="1646" y="474" width="41" height="11" fill="#000000"/>
<text x="1649.5" y="483" font-size="9.5" fill="#fff" stroke="#fff" stroke-width="0.12" letter-spacing="-0.22" text-anchor="start" >7.15878</text>
<rect x="1646" y="492" width="41" height="11" fill="#00bfff"/>
<text x="1649.5" y="501" font-size="9.5" fill="#fff" stroke="#fff" stroke-width="0.12" letter-spacing="-0.22" text-anchor="start" >7.15307</text>
<rect x="1646" y="521" width="41" height="11" fill="#0000ff"/>
<text x="1649.5" y="530" font-size="9.5" fill="#fff" stroke="#fff" stroke-width="0.12" letter-spacing="-0.22" text-anchor="start" >7.14435</text>
<rect x="1646" y="550" width="41" height="11" fill="#0000ff"/>
<text x="1649.5" y="559" font-size="9.5" fill="#fff" stroke="#fff" stroke-width="0.12" letter-spacing="-0.22" text-anchor="start" >7.13570</text>
<g clip-path="url(#cd)">
<rect x="4" y="639" width="3" height="28" fill="#00ff00"/>
<rect x="20" y="638" width="3" height="29" fill="#00ff00"/>
<rect x="36" y="636" width="3" height="31" fill="#00ff00"/>
<rect x="52" y="636" width="3" height="31" fill="#00ff00"/>
<rect x="68" y="635" width="3" height="32" fill="#00ff00"/>
<rect x="84" y="631" width="3" height="36" fill="#00ff00"/>
<rect x="100" y="628" width="3" height="39" fill="#00ff00"/>
<rect x="116" y="627" width="3" height="40" fill="#00ff00"/>
<rect x="132" y="625" width="3" height="42" fill="#00ff00"/>
<rect x="148" y="624" width="3" height="43" fill="#00ff00"/>
<rect x="164" y="629" width="3" height="38" fill="#00ff00"/>
<rect x="180" y="634" width="3" height="33" fill="#00ff00"/>
<rect x="196" y="638" width="3" height="29" fill="#00ff00"/>
<rect x="212" y="639" width="3" height="28" fill="#00ff00"/>
<rect x="228" y="641" width="3" height="26" fill="#00ff00"/>
<rect x="244" y="643" width="3" height="24" fill="#00ff00"/>
<rect x="260" y="643" width="3" height="24" fill="#00ff00"/>
<rect x="276" y="641" width="3" height="26" fill="#00ff00"/>
<rect x="292" y="638" width="3" height="29" fill="#00ff00"/>
<rect x="308" y="636" width="3" height="31" fill="#00ff00"/>
<rect x="324" y="637" width="3" height="30" fill="#00ff00"/>
<rect x="340" y="638" width="3" height="29" fill="#00ff00"/>
<rect x="356" y="636" width="3" height="31" fill="#00ff00"/>
<rect x="372" y="637" width="3" height="30" fill="#00ff00"/>
<rect x="388" y="639" width="3" height="28" fill="#00ff00"/>
<rect x="404" y="638" width="3" height="29" fill="#00ff00"/>
<rect x="420" y="635" width="3" height="32" fill="#00ff00"/>
<rect x="436" y="634" width="3" height="33" fill="#00ff00"/>
<rect x="452" y="635" width="3" height="32" fill="#00ff00"/>
<rect x="468" y="634" width="3" height="33" fill="#00ff00"/>
<rect x="484" y="632" width="3" height="35" fill="#00ff00"/>
<rect x="500" y="633" width="3" height="34" fill="#00ff00"/>
<rect x="516" y="635" width="3" height="32" fill="#00ff00"/>
<rect x="532" y="639" width="3" height="28" fill="#00ff00"/>
<rect x="548" y="640" width="3" height="27" fill="#00ff00"/>
<rect x="564" y="642" width="3" height="25" fill="#00ff00"/>
<rect x="580" y="645" width="3" height="22" fill="#00ff00"/>
<rect x="596" y="647" width="3" height="20" fill="#00ff00"/>
<rect x="612" y="650" width="3" height="17" fill="#00ff00"/>
<rect x="628" y="654" width="3" height="13" fill="#00ff00"/>
<rect x="644" y="662" width="3" height="5" fill="#00ff00"/>
<rect x="660" y="666" width="3" height="1" fill="#00ff00"/>
<rect x="676" y="667" width="3" height="5" fill="#00ff00"/>
<rect x="692" y="667" width="3" height="7" fill="#00ff00"/>
<rect x="708" y="667" width="3" height="8" fill="#00ff00"/>
<rect x="724" y="667" width="3" height="7" fill="#00ff00"/>
<rect x="740" y="667" width="3" height="5" fill="#00ff00"/>
<rect x="756" y="667" width="3" height="2" fill="#00ff00"/>
<rect x="772" y="665" width="3" height="2" fill="#00ff00"/>
<rect x="788" y="663" width="3" height="4" fill="#00ff00"/>
<rect x="804" y="661" width="3" height="6" fill="#00ff00"/>
<rect x="820" y="659" width="3" height="8" fill="#00ff00"/>
<rect x="836" y="658" width="3" height="9" fill="#00ff00"/>
<rect x="852" y="661" width="3" height="6" fill="#00ff00"/>
<rect x="868" y="659" width="3" height="8" fill="#00ff00"/>
<rect x="884" y="659" width="3" height="8" fill="#00ff00"/>
<rect x="900" y="660" width="3" height="7" fill="#00ff00"/>
<rect x="916" y="661" width="3" height="6" fill="#00ff00"/>
<rect x="932" y="662" width="3" height="5" fill="#00ff00"/>
<rect x="948" y="664" width="3" height="3" fill="#00ff00"/>
<rect x="964" y="667" width="3" height="3" fill="#00ff00"/>
<rect x="980" y="667" width="3" height="6" fill="#00ff00"/>
<rect x="996" y="667" width="3" height="7" fill="#00ff00"/>
<rect x="1012" y="667" width="3" height="8" fill="#00ff00"/>
<rect x="1028" y="667" width="3" height="8" fill="#00ff00"/>
<rect x="1044" y="667" width="3" height="10" fill="#00ff00"/>
<rect x="1060" y="667" width="3" height="11" fill="#00ff00"/>
<rect x="1076" y="667" width="3" height="12" fill="#00ff00"/>
<rect x="1092" y="667" width="3" height="17" fill="#00ff00"/>
<rect x="1108" y="667" width="3" height="21" fill="#00ff00"/>
<rect x="1124" y="667" width="3" height="23" fill="#00ff00"/>
<rect x="1140" y="667" width="3" height="22" fill="#00ff00"/>
<rect x="1156" y="667" width="3" height="23" fill="#00ff00"/>
<rect x="1172" y="667" width="3" height="24" fill="#00ff00"/>
<rect x="1188" y="667" width="3" height="27" fill="#00ff00"/>
<rect x="1204" y="667" width="3" height="30" fill="#00ff00"/>
<rect x="1220" y="667" width="3" height="31" fill="#00ff00"/>
<rect x="1236" y="667" width="3" height="36" fill="#00ff00"/>
<rect x="1252" y="667" width="3" height="41" fill="#00ff00"/>
<rect x="1268" y="667" width="3" height="44" fill="#00ff00"/>
<rect x="1284" y="667" width="3" height="45" fill="#00ff00"/>
<rect x="1300" y="667" width="3" height="47" fill="#00ff00"/>
<rect x="1316" y="667" width="3" height="46" fill="#00ff00"/>
<rect x="1332" y="667" width="3" height="48" fill="#00ff00"/>
<rect x="1348" y="667" width="3" height="50" fill="#00ff00"/>
<rect x="1364" y="667" width="3" height="51" fill="#00ff00"/>
<rect x="1380" y="667" width="3" height="55" fill="#00ff00"/>
<rect x="1396" y="667" width="3" height="56" fill="#00ff00"/>
<rect x="1412" y="667" width="3" height="55" fill="#00ff00"/>
<rect x="1428" y="667" width="3" height="53" fill="#00ff00"/>
<rect x="1444" y="667" width="3" height="48" fill="#00ff00"/>
<polyline points="5,647 21,646 37,645 53,644.3 69,643.5 85,640 101,638.5 117,637 133,635.5 149,633.5 165,630 181,630 197,630 213,631.5 229,633 245,634.8 261,636 277,637.5 293,638.4 309,639 325,639.3 341,639.3 357,639 373,638.6 389,638 405,637.7 421,637 437,636.8 453,636 469,635.5 485,635.2 501,635 517,635 533,634.8 549,635.5 565,636.3 581,637 597,639.3 613,640 629,642.6 645,645.8 661,649.8 677,652.7 693,656.5 709,660 725,662.8 741,666.5 757,668.4 773,669 789,669 805,669 821,668 837,667 853,664.4 869,663 885,662 901,661.5 917,661 933,660.5 949,660 965,661 981,663.3 997,664.4 1013,666.2 1029,667.3 1045,669 1061,670.7 1077,672.3 1093,674.5 1109,677 1125,679 1141,680 1157,682 1173,684 1189,686 1205,688.4 1221,690.2 1237,692.5 1253,694.7 1269,697.4 1285,700.3 1301,702.6 1317,705.7 1333,707.5 1349,709.3 1365,712.2 1381,714.3 1397,715.4 1413,716.5 1429,716.7 1445,716.7" fill="none" stroke="#ff0000" stroke-width="2" shape-rendering="crispEdges"/>
</g>
<text x="9" y="631" font-size="9.5" fill="#000" stroke="#000" stroke-width="0.12" letter-spacing="-0.1" text-anchor="start" >MACD(12,26,9) -0.020337 -0.021605</text>
<rect x="1645" y="618" width="2" height="1" fill="#000"/>
<rect x="1645" y="667" width="2" height="1" fill="#000"/>
<rect x="1645" y="727" width="2" height="1" fill="#000"/>
<text x="1649" y="629" font-size="9.5" fill="#000" stroke="#000" stroke-width="0.12" letter-spacing="-0.22" text-anchor="start" >0.020425</text>
<text x="1649" y="671" font-size="9.5" fill="#000" stroke="#000" stroke-width="0.12" letter-spacing="-0.22" text-anchor="start" >0.00</text>
<text x="1648" y="724" font-size="9.5" fill="#000" stroke="#000" stroke-width="0.12" letter-spacing="-0.22" text-anchor="start" >-0.025514</text>
<g clip-path="url(#cr)">
<line x1="5" y1="750.5" x2="1644" y2="750.5" stroke="#000" stroke-width="1" stroke-dasharray="3,3" shape-rendering="crispEdges"/>
<line x1="5" y1="780.5" x2="1644" y2="780.5" stroke="#000" stroke-width="1" stroke-dasharray="3,3" shape-rendering="crispEdges"/>
<line x1="5" y1="815.5" x2="1644" y2="815.5" stroke="#000" stroke-width="1" stroke-dasharray="3,3" shape-rendering="crispEdges"/>
<polyline points="5,766 21,766 37,765 53,765 69,763.6 85,759 101,759.8 117,758.2 133,757.8 149,757 165,776.6 181,776.6 197,776.6 213,772.8 229,772.8 245,772 261,769.5 277,765 293,760.5 309,765.4 325,770 341,769.5 357,763.6 373,771 389,771 405,766 421,763.6 437,762.7 453,769 469,765 485,762.7 501,771 517,771 533,778.4 549,772.8 565,772.8 581,779 597,778 613,778 629,783.4 645,790.8 661,789.4 677,789 693,785.6 709,785.6 725,780 741,776.3 757,774.9 773,772.8 789,772.8 805,772.8 821,772.8 837,774 853,783 869,774.9 885,777.8 901,778.4 917,779.3 933,779.8 949,783 965,790.8 981,790.8 997,784.5 1013,784 1029,784 1045,789 1061,789 1077,789 1093,796.9 1109,797.5 1125,796.4 1141,787.9 1157,791.5 1173,791.5 1189,798.4 1205,797.3 1221,796 1237,803.6 1253,803.6 1269,803.6 1285,800.9 1301,801.8 1317,797.5 1333,802.7 1349,802.7 1365,801.8 1381,805.8 1397,801.4 1413,796.9 1429,796.9 1445,788.8" fill="none" stroke="#1e90ff" stroke-width="2" shape-rendering="crispEdges"/>
</g>
<text x="9" y="742" font-size="9.5" fill="#000" stroke="#000" stroke-width="0.12" letter-spacing="-0.1" text-anchor="start" >RSI(14) 41.4612</text>
<rect x="1645" y="729" width="2" height="1" fill="#000"/>
<text x="1649" y="740" font-size="9.5" fill="#000" stroke="#000" stroke-width="0.12" letter-spacing="-0.22" text-anchor="start" >100</text>
<text x="1649" y="754" font-size="9.5" fill="#000" stroke="#000" stroke-width="0.12" letter-spacing="-0.22" text-anchor="start" >80</text>
<text x="1649" y="784" font-size="9.5" fill="#000" stroke="#000" stroke-width="0.12" letter-spacing="-0.22" text-anchor="start" >50</text>
<text x="1649" y="819" font-size="9.5" fill="#000" stroke="#000" stroke-width="0.12" letter-spacing="-0.22" text-anchor="start" >15</text>
<text x="1649" y="827" font-size="9.5" fill="#000" stroke="#000" stroke-width="0.12" letter-spacing="-0.22" text-anchor="start" >0</text>
<rect x="5" y="831" width="1" height="3" fill="#000"/>
<text x="4" y="843" font-size="9.5" fill="#000" stroke="#000" stroke-width="0.12" letter-spacing="-0.22" text-anchor="start" >23 Jun 2023</text>
<rect x="69" y="831" width="1" height="3" fill="#000"/>
<text x="68" y="843" font-size="9.5" fill="#000" stroke="#000" stroke-width="0.12" letter-spacing="-0.22" text-anchor="start" >26 Jun 00:00</text>
<rect x="133" y="831" width="1" height="3" fill="#000"/>
<text x="132" y="843" font-size="9.5" fill="#000" stroke="#000" stroke-width="0.12" letter-spacing="-0.22" text-anchor="start" >26 Jun 16:00</text>
<rect x="197" y="831" width="1" height="3" fill="#000"/>
<text x="196" y="843" font-size="9.5" fill="#000" stroke="#000" stroke-width="0.12" letter-spacing="-0.22" text-anchor="start" >27 Jun 08:00</text>
<rect x="261" y="831" width="1" height="3" fill="#000"/>
<text x="260" y="843" font-size="9.5" fill="#000" stroke="#000" stroke-width="0.12" letter-spacing="-0.22" text-anchor="start" >28 Jun 00:00</text>
<rect x="325" y="831" width="1" height="3" fill="#000"/>
<text x="324" y="843" font-size="9.5" fill="#000" stroke="#000" stroke-width="0.12" letter-spacing="-0.22" text-anchor="start" >28 Jun 16:00</text>
<rect x="389" y="831" width="1" height="3" fill="#000"/>
<text x="388" y="843" font-size="9.5" fill="#000" stroke="#000" stroke-width="0.12" letter-spacing="-0.22" text-anchor="start" >29 Jun 08:00</text>
<rect x="453" y="831" width="1" height="3" fill="#000"/>
<text x="452" y="843" font-size="9.5" fill="#000" stroke="#000" stroke-width="0.12" letter-spacing="-0.22" text-anchor="start" >30 Jun 00:00</text>
<rect x="517" y="831" width="1" height="3" fill="#000"/>
<text x="516" y="843" font-size="9.5" fill="#000" stroke="#000" stroke-width="0.12" letter-spacing="-0.22" text-anchor="start" >30 Jun 16:00</text>
<rect x="581" y="831" width="1" height="3" fill="#000"/>
<text x="580" y="843" font-size="9.5" fill="#000" stroke="#000" stroke-width="0.12" letter-spacing="-0.22" text-anchor="start" >3 Jul 12:00</text>
<rect x="645" y="831" width="1" height="3" fill="#000"/>
<text x="644" y="843" font-size="9.5" fill="#000" stroke="#000" stroke-width="0.12" letter-spacing="-0.22" text-anchor="start" >4 Jul 04:00</text>
<rect x="709" y="831" width="1" height="3" fill="#000"/>
<text x="708" y="843" font-size="9.5" fill="#000" stroke="#000" stroke-width="0.12" letter-spacing="-0.22" text-anchor="start" >4 Jul 20:00</text>
<rect x="773" y="831" width="1" height="3" fill="#000"/>
<text x="772" y="843" font-size="9.5" fill="#000" stroke="#000" stroke-width="0.12" letter-spacing="-0.22" text-anchor="start" >5 Jul 12:00</text>
<rect x="837" y="831" width="1" height="3" fill="#000"/>
<text x="836" y="843" font-size="9.5" fill="#000" stroke="#000" stroke-width="0.12" letter-spacing="-0.22" text-anchor="start" >6 Jul 04:00</text>
<rect x="901" y="831" width="1" height="3" fill="#000"/>
<text x="900" y="843" font-size="9.5" fill="#000" stroke="#000" stroke-width="0.12" letter-spacing="-0.22" text-anchor="start" >6 Jul 20:00</text>
<rect x="965" y="831" width="1" height="3" fill="#000"/>
<text x="964" y="843" font-size="9.5" fill="#000" stroke="#000" stroke-width="0.12" letter-spacing="-0.22" text-anchor="start" >7 Jul 12:00</text>
<rect x="1029" y="831" width="1" height="3" fill="#000"/>
<text x="1028" y="843" font-size="9.5" fill="#000" stroke="#000" stroke-width="0.12" letter-spacing="-0.22" text-anchor="start" >10 Jul 08:00</text>
<rect x="1093" y="831" width="1" height="3" fill="#000"/>
<text x="1092" y="843" font-size="9.5" fill="#000" stroke="#000" stroke-width="0.12" letter-spacing="-0.22" text-anchor="start" >11 Jul 00:00</text>
<rect x="1157" y="831" width="1" height="3" fill="#000"/>
<text x="1156" y="843" font-size="9.5" fill="#000" stroke="#000" stroke-width="0.12" letter-spacing="-0.22" text-anchor="start" >11 Jul 16:00</text>
<rect x="1221" y="831" width="1" height="3" fill="#000"/>
<text x="1220" y="843" font-size="9.5" fill="#000" stroke="#000" stroke-width="0.12" letter-spacing="-0.22" text-anchor="start" >12 Jul 08:00</text>
<rect x="1285" y="831" width="1" height="3" fill="#000"/>
<text x="1284" y="843" font-size="9.5" fill="#000" stroke="#000" stroke-width="0.12" letter-spacing="-0.22" text-anchor="start" >13 Jul 00:00</text>
<rect x="1349" y="831" width="1" height="3" fill="#000"/>
<text x="1348" y="843" font-size="9.5" fill="#000" stroke="#000" stroke-width="0.12" letter-spacing="-0.22" text-anchor="start" >13 Jul 16:00</text>
<rect x="1413" y="831" width="1" height="3" fill="#000"/>
<text x="1412" y="843" font-size="9.5" fill="#000" stroke="#000" stroke-width="0.12" letter-spacing="-0.22" text-anchor="start" >14 Jul 08:00</text>
<polygon points="8,37 15,37 11.5,41" fill="#000"/>
<text x="20" y="42" font-size="9.5" fill="#000" stroke="#000" stroke-width="0.12" letter-spacing="0" text-anchor="start" >USDCNH-,H4</text>
<text x="84.6" y="42" font-size="9.5" fill="#000" stroke="#000" stroke-width="0.12" letter-spacing="-0.13" text-anchor="start" >7.14485 7.15971 7.14424 7.15878</text>
</svg>
</body></html>
